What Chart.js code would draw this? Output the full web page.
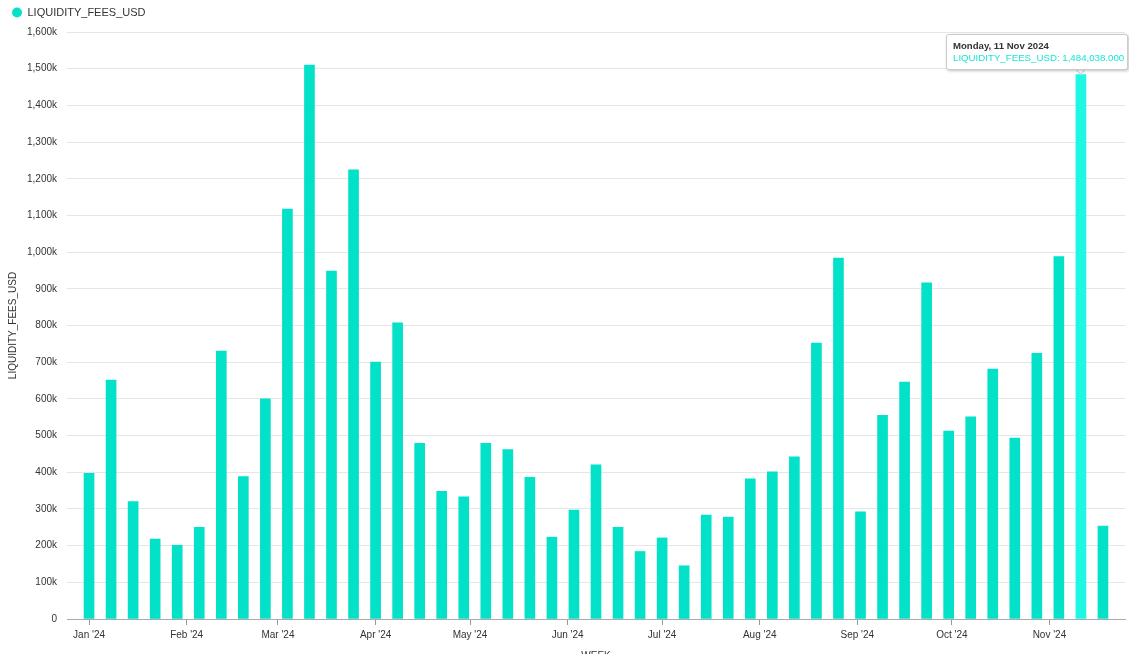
<!DOCTYPE html>
<html lang="en">
<head>
    <meta charset="UTF-8">
    <title>Liquidity Fees</title>
    <style>
        html, body { margin: 0; padding: 0; background: #fff; overflow: hidden; }
        .chart-box { position: relative; width: 1129px; height: 662px; }
        #tip {
            position: absolute; pointer-events: none; background: #fff;
            border: 1px solid #ccc; border-radius: 3px; padding: 5px 3px 5px 6px;
            box-shadow: 1px 1px 3px rgba(0,0,0,0.25);
            font-family: "Liberation Sans", Arial, sans-serif; white-space: nowrap; display: none;
        }
        #tip .t { font-size: 9.6px; font-weight: bold; color: #333; line-height: 12px; }
        #tip .b { font-size: 9.7px; color: #17e6d3; line-height: 12px; }
        #caret {
            position: absolute; width: 8px; height: 8px; background: #fff; display: none;
            border-right: 1px solid #ccc; border-bottom: 1px solid #ccc; transform: rotate(45deg);
        }
    </style>
</head>
<body>
    <div class="chart-box">
        <canvas id="feesChart"></canvas>
        <div id="caret"></div>
        <div id="tip"></div>
    </div>

    <script src="https://cdn.jsdelivr.net/npm/chart.js"></script>
    <script>
        // weekly data, week start dates
        const weeks = [
            '2024-01-01', '2024-01-08', '2024-01-15', '2024-01-22', '2024-01-29',
            '2024-02-05', '2024-02-12', '2024-02-19', '2024-02-26',
            '2024-03-04', '2024-03-11', '2024-03-18', '2024-03-25',
            '2024-04-01', '2024-04-08', '2024-04-15', '2024-04-22', '2024-04-29',
            '2024-05-06', '2024-05-13', '2024-05-20', '2024-05-27',
            '2024-06-03', '2024-06-10', '2024-06-17', '2024-06-24',
            '2024-07-01', '2024-07-08', '2024-07-15', '2024-07-22', '2024-07-29',
            '2024-08-05', '2024-08-12', '2024-08-19', '2024-08-26',
            '2024-09-02', '2024-09-09', '2024-09-16', '2024-09-23', '2024-09-30',
            '2024-10-07', '2024-10-14', '2024-10-21', '2024-10-28',
            '2024-11-04', '2024-11-11', '2024-11-18'
        ];
        const fees = [
            397000, 651000, 320000, 218000, 201000,
            250000, 730000, 388000, 600000,
            1117000, 1510000, 948000, 1224000,
            700000, 807000, 479000, 348000, 333000,
            479000, 462000, 386000, 223000,
            297000, 420000, 250000, 184000,
            221000, 145000, 283000, 278000, 382000,
            401000, 442000, 752000, 984000,
            292000, 555000, 646000, 916000, 512000,
            551000, 681000, 493000, 724000,
            988000, 1484038, 253000
        ];
        const monthTicks = ['2024-01-01', '2024-02-01', '2024-03-01', '2024-04-01', '2024-05-01', '2024-06-01',
                            '2024-07-01', '2024-08-01', '2024-09-01', '2024-10-01', '2024-11-01'];
        const monthLabels = ["Jan '24", "Feb '24", "Mar '24", "Apr '24", "May '24", "Jun '24",
                             "Jul '24", "Aug '24", "Sep '24", "Oct '24", "Nov '24"];
        const yTicks = [0, 100000, 200000, 300000, 400000, 500000, 600000, 700000, 800000,
                        900000, 1000000, 1100000, 1200000, 1300000, 1400000, 1500000, 1600000];
        const hoverIndex = 45;

        const barColor = '#03e1c9';
        const hoverColor = '#1ef7e4';
        const fontFam = '"Liberation Sans", Arial, sans-serif';
        const dayNames = ['Sunday', 'Monday', 'Tuesday', 'Wednesday', 'Thursday', 'Friday', 'Saturday'];
        const monNames = ['Jan', 'Feb', 'Mar', 'Apr', 'May', 'Jun', 'Jul', 'Aug', 'Sep', 'Oct', 'Nov', 'Dec'];

        // days since 1 Jan 2024
        function dayNo(s) {
            const p = s.split('-').map(Number);
            return Math.round((Date.UTC(p[0], p[1] - 1, p[2]) - Date.UTC(2024, 0, 1)) / 86400000);
        }
        function longDate(s) {
            const p = s.split('-').map(Number);
            const d = new Date(Date.UTC(p[0], p[1] - 1, p[2]));
            return dayNames[d.getUTCDay()] + ', ' + p[2] + ' ' + monNames[p[1] - 1] + ' ' + p[0];
        }

        const monthDays = monthTicks.map(dayNo);

        function externalTip(context) {
            const tip = document.getElementById('tip');
            const caret = document.getElementById('caret');
            const model = context.tooltip;
            if (model.opacity === 0 || !model.dataPoints || !model.dataPoints.length) {
                tip.style.display = 'none';
                caret.style.display = 'none';
                return;
            }
            const dp = model.dataPoints[0];
            tip.innerHTML = '<div class="t">' + longDate(weeks[dp.dataIndex]) + '</div>' +
                '<div class="b">LIQUIDITY_FEES_USD: ' +
                dp.raw.y.toLocaleString('en-US', { minimumFractionDigits: 3, maximumFractionDigits: 3 }) + '</div>';
            tip.style.display = 'block';
            const w = tip.offsetWidth, h = tip.offsetHeight;
            const cw = context.chart.width;
            let left = model.caretX - w / 2;
            left = Math.max(2, Math.min(left, cw - w - 1));
            const top = model.caretY - h - 5;
            tip.style.left = left + 'px';
            tip.style.top = top + 'px';
            caret.style.display = 'block';
            caret.style.left = (model.caretX - 5) + 'px';
            caret.style.top = (top + h - 6) + 'px';
        }

        // a bit more room below the legend
        const legendGap = {
            id: 'legendGap',
            afterInit(chart) {
                const lg = chart.legend;
                const fit = lg.fit;
                lg.fit = function () { fit.call(this); this.height += 4; };
            }
        };

        const ctx = document.getElementById('feesChart').getContext('2d');
        const chart = new Chart(ctx, {
            type: 'bar',
            data: {
                datasets: [{
                    label: 'LIQUIDITY_FEES_USD',
                    data: weeks.map((w, i) => ({ x: dayNo(w), y: fees[i] })),
                    backgroundColor: barColor,
                    hoverBackgroundColor: hoverColor,
                    borderWidth: 0,
                    barThickness: 10
                }]
            },
            plugins: [legendGap],
            options: {
                responsive: true,
                maintainAspectRatio: false,
                animation: false,
                layout: { padding: { left: 5, right: 4, top: 0, bottom: 0 } },
                plugins: {
                    legend: {
                        position: 'top',
                        align: 'start',
                        labels: {
                            usePointStyle: true,
                            pointStyle: 'circle',
                            boxWidth: 10,
                            boxHeight: 7,
                            padding: 7,
                            color: '#333',
                            font: { size: 11, family: fontFam }
                        }
                    },
                    tooltip: {
                        enabled: false,
                        external: externalTip
                    }
                },
                scales: {
                    x: {
                        type: 'linear',
                        min: -7,
                        max: 329,
                        offset: false,
                        afterFit: s => { s.height = 43; },
                        afterBuildTicks: s => { s.ticks = monthDays.map(v => ({ value: v })); },
                        ticks: {
                            autoSkip: false,
                            maxRotation: 0,
                            padding: 4,
                            color: '#333',
                            font: { size: 10, family: fontFam },
                            callback: (v, i) => monthLabels[i]
                        },
                        grid: { offset: false, drawOnChartArea: false, drawTicks: true, tickLength: 6, color: '#999' },
                        border: { color: '#aaa', width: 1 },
                        title: {
                            display: true, text: 'WEEK', color: '#333', padding: { top: 4, bottom: 0 },
                            font: { size: 10, family: fontFam }
                        }
                    },
                    y: {
                        min: 0,
                        max: 1600000,
                        afterFit: s => { s.width = 62; },
                        afterBuildTicks: s => { s.ticks = yTicks.map(v => ({ value: v })); },
                        ticks: {
                            padding: 10,
                            color: '#333',
                            font: { size: 10, family: fontFam },
                            callback: v => v === 0 ? '0' : (v / 1000).toLocaleString('en-US') + 'k'
                        },
                        grid: { color: '#e6e6e6', drawTicks: false },
                        border: { display: false },
                        title: {
                            display: true, text: 'LIQUIDITY_FEES_USD', color: '#333',
                            padding: { top: 2, bottom: 4 },
                            font: { size: 10, family: fontFam }
                        }
                    }
                }
            }
        });

        const active = [{ datasetIndex: 0, index: hoverIndex }];
        chart.setActiveElements(active);
        chart.tooltip.setActiveElements(active, { x: 0, y: 0 });
        chart.update();
    </script>
</body>
</html>
